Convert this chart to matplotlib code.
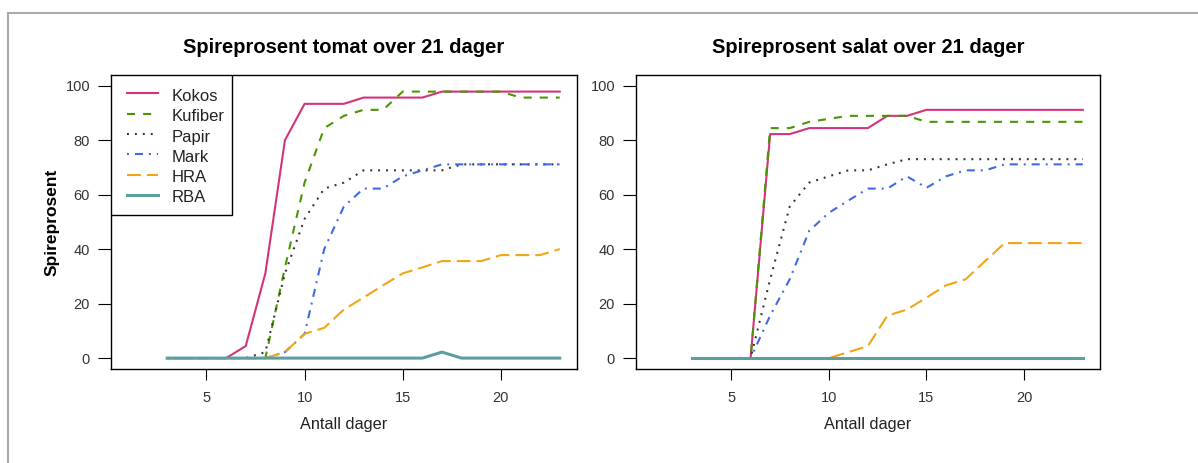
import matplotlib
matplotlib.use('Agg')
import matplotlib.pyplot as plt
from matplotlib.lines import Line2D
from matplotlib.patches import Rectangle

plt.rcParams['font.family'] = ['Liberation Sans', 'DejaVu Sans']
plt.rcParams['lines.scale_dashes'] = False

# dag 3 .. 23
days = list(range(3, 24))

# tomat
kokos_t = [0, 0, 0, 0, 4.4, 31.1, 80.0, 93.3, 93.3, 93.3, 95.6, 95.6, 95.6, 95.6,
           97.8, 97.8, 97.8, 97.8, 97.8, 97.8, 97.8]
kufiber_t = [0, 0, 0, 0, 0, 0, 33.3, 64.4, 84.4, 88.9, 91.1, 91.1, 97.8, 97.8,
             97.8, 97.8, 97.8, 97.8, 95.6, 95.6, 95.6]
papir_t = [0, 0, 0, 0, 0, 2.2, 31.1, 51.1, 62.2, 64.4, 68.9, 68.9, 68.9, 68.9,
           68.9, 71.1, 71.1, 71.1, 71.1, 71.1, 71.1]
mark_t = [0, 0, 0, 0, 0, 0, 2.2, 8.9, 40.0, 55.6, 62.2, 62.2, 66.7, 68.9,
          71.1, 71.1, 71.1, 71.1, 71.1, 71.1, 71.1]
hra_t = [0, 0, 0, 0, 0, 0, 2.2, 8.9, 11.1, 17.8, 22.2, 26.7, 31.1, 33.3,
         35.6, 35.6, 35.6, 37.8, 37.8, 37.8, 40.0]
rba_t = [0, 0, 0, 0, 0, 0, 0, 0, 0, 0, 0, 0, 0, 0,
         2.2, 0, 0, 0, 0, 0, 0]

# salat
kokos_s = [0, 0, 0, 0, 82.2, 82.2, 84.4, 84.4, 84.4, 84.4, 88.9, 88.9, 91.1, 91.1,
           91.1, 91.1, 91.1, 91.1, 91.1, 91.1, 91.1]
kufiber_s = [0, 0, 0, 0, 84.4, 84.4, 86.7, 87.8, 88.9, 88.9, 88.9, 88.9, 86.7, 86.7,
             86.7, 86.7, 86.7, 86.7, 86.7, 86.7, 86.7]
papir_s = [0, 0, 0, 0, 28.9, 55.6, 64.4, 66.7, 68.9, 68.9, 71.1, 73.0, 73.0, 73.0,
           73.0, 73.0, 73.0, 73.0, 73.0, 73.0, 73.0]
mark_s = [0, 0, 0, 0, 15.6, 28.9, 46.7, 53.3, 57.8, 62.2, 62.2, 66.7, 62.5, 66.7,
          68.9, 68.9, 71.1, 71.1, 71.1, 71.1, 71.1]
hra_s = [0, 0, 0, 0, 0, 0, 0, 0, 2.2, 4.4, 15.6, 17.8, 22.2, 26.7,
         28.9, 35.6, 42.2, 42.2, 42.2, 42.2, 42.2]
rba_s = [0] * 21

labels = ['Kokos', 'Kufiber', 'Papir', 'Mark', 'HRA', 'RBA']
colors = ['#d4337a', '#4a9600', '#333333', '#4169e1', '#f2a516', '#5f9ea0']
dashes = [None, (5.8, 5.8), (1.4, 4.3), (1.4, 4.3, 5.8, 4.3), (10.0, 4.3), None]
widths = [1.5, 1.5, 1.5, 1.5, 1.5, 2.2]

fig = plt.figure(figsize=(11.98, 4.63), dpi=100)
W, H = 1198, 463

# ramme rundt bildet
fig.add_artist(Line2D([8 / W, 1], [1 - 13 / H] * 2, transform=fig.transFigure,
                      color='#aaaaaa', lw=1.5))
fig.add_artist(Line2D([8 / W] * 2, [0, 1 - 13 / H], transform=fig.transFigure,
                      color='#aaaaaa', lw=1.5))

bottom = 1 - 369 / H
height = 294.3 / H
ax1 = fig.add_axes([110.7 / W, bottom, 466.3 / W, height])
ax2 = fig.add_axes([635.7 / W, bottom, 464.3 / W, height])


def draw(ax, series, title):
    for vals, lab, col, d, lw in zip(series, labels, colors, dashes, widths):
        line, = ax.plot(days, vals, color=col, lw=lw, label=lab)
        if d:
            line.set_dashes(d)
    ax.set_xlim(0.12, 23.88)
    ax.set_ylim(-4, 104)
    ax.set_xticks([5, 10, 15, 20])
    ax.set_yticks([0, 20, 40, 60, 80, 100])
    ax.tick_params(axis='x', length=7.6, width=0.8, pad=8.5, labelsize=10.5,
                   labelcolor='#333333')
    ax.tick_params(axis='y', length=9.4, width=0.8, pad=5.5, labelsize=10.5,
                   labelcolor='#333333')
    for s in ax.spines.values():
        s.set_linewidth(1.0)
    ax.set_title(title, fontsize=14.5, fontweight='bold', pad=15.5)
    ax.set_xlabel('Antall dager', fontsize=11.7, color='#222222')
    ax.xaxis.set_label_coords(0.5, -0.19)
    ax.xaxis.label.set_va('center')


draw(ax1, [kokos_t, kufiber_t, papir_t, mark_t, hra_t, rba_t],
     'Spireprosent tomat over 21 dager')
draw(ax2, [kokos_s, kufiber_s, papir_s, mark_s, hra_s, rba_s],
     'Spireprosent salat over 21 dager')

ax1.set_ylabel('Spireprosent', fontsize=12.5, fontweight='bold')
ax1.yaxis.set_label_coords(-0.1265, 0.5)
ax1.yaxis.label.set_va('center')

# legend (R-stil)
aw, ah = 466.3, 294.3
ax1.add_patch(Rectangle((0, 1 - 140.3 / ah), 121 / aw, 140.3 / ah,
                        transform=ax1.transAxes, facecolor='white',
                        edgecolor='black', lw=1.0, zorder=5))
for i, (lab, col, d, lw) in enumerate(zip(labels, colors, dashes, widths)):
    y = 1 - (18.6 + 20.3 * i) / ah
    h = Line2D([16 / aw, 47.6 / aw], [y, y], transform=ax1.transAxes,
               color=col, lw=lw, zorder=6)
    if d:
        h.set_dashes(d)
    ax1.add_line(h)
    ax1.text(61 / aw, y - 3.2 / ah, lab, transform=ax1.transAxes,
             fontsize=12, va='center', ha='left', color='#222222', zorder=6)

plt.savefig('out.png', dpi=100)
